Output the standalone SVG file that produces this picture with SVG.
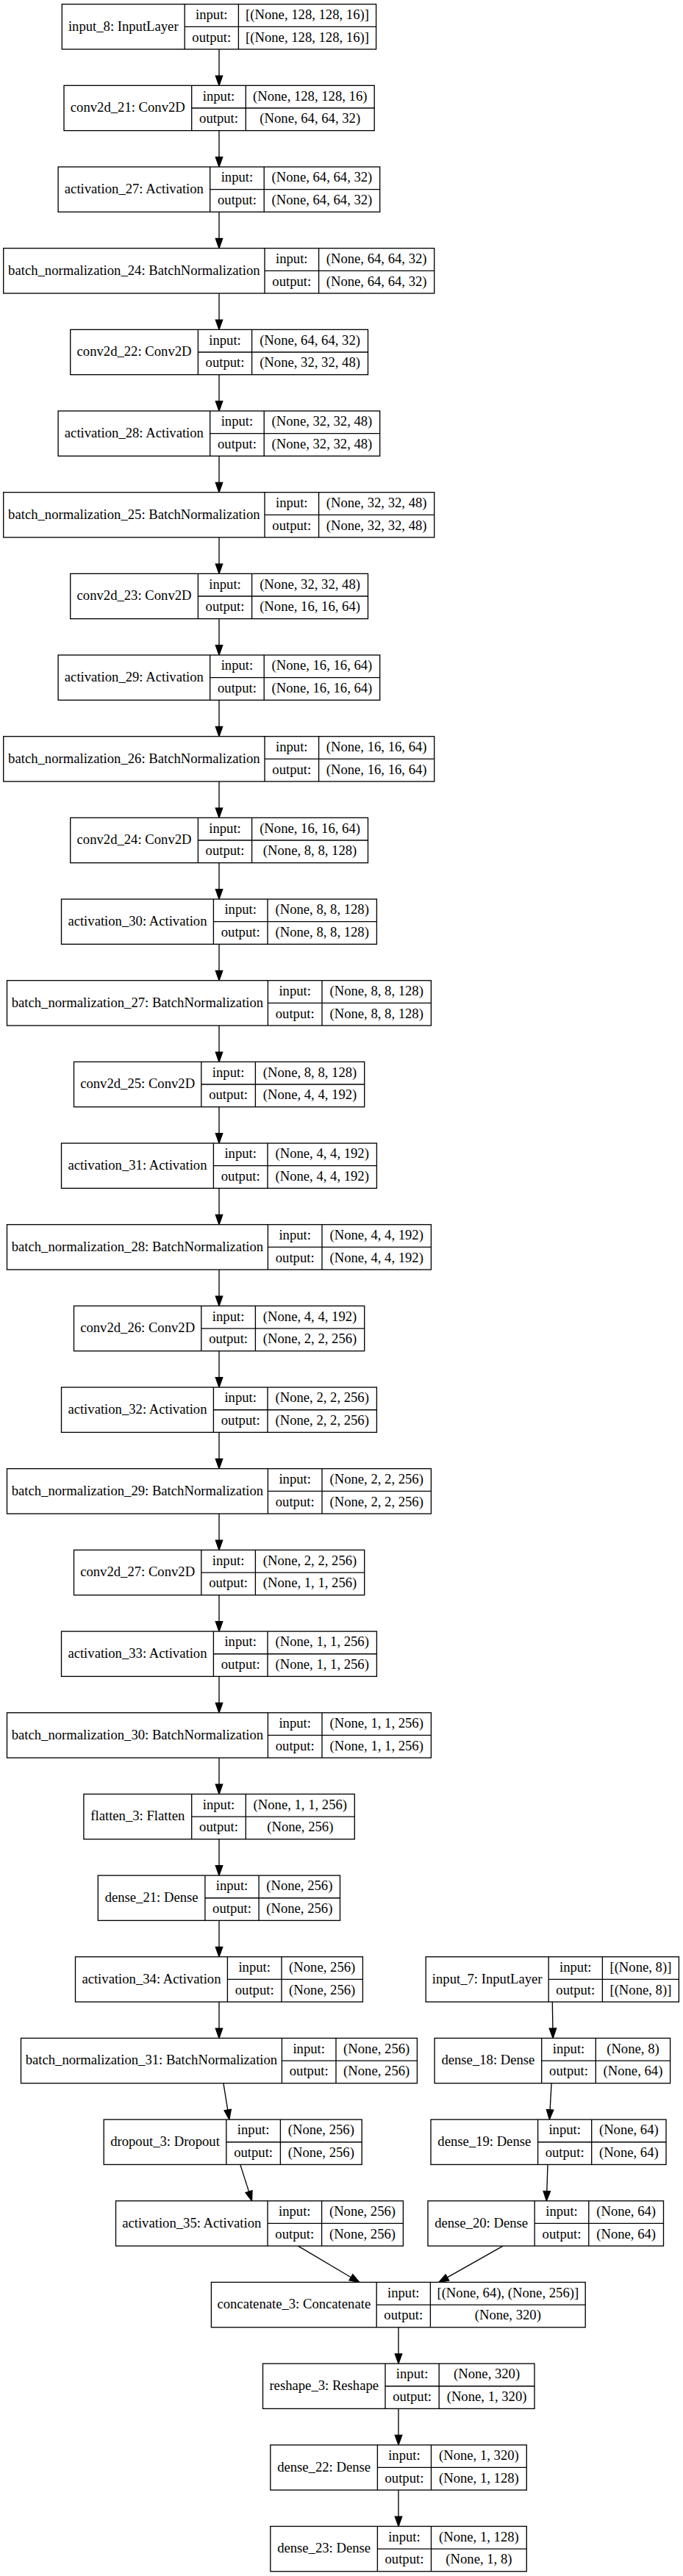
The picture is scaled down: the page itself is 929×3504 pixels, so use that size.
<svg xmlns="http://www.w3.org/2000/svg" width="929" height="3504" viewBox="0 0 929 3504">
<style>
.b{fill:#fff;stroke:#000;stroke-width:1.33}
.l{fill:none;stroke:#000;stroke-width:1.33}
.e{fill:none;stroke:#000;stroke-width:1.33;marker-end:url(#ah)}
text{font-family:"Liberation Serif","Times New Roman",serif;font-size:18.67px;text-anchor:middle;fill:#000}
</style>
<defs>
<marker id="ah" markerUnits="userSpaceOnUse" orient="auto" refX="0" refY="0" markerWidth="14" markerHeight="10" overflow="visible"><path d="M0,-4.7L13.3,0L0,4.7Z" fill="#000" stroke="#000" stroke-width="1.33"/></marker>
</defs>
<rect width="929" height="3504" fill="#fff"/>
<g id="edges">
<path class="e" d="M298,66.97V103.04"/>
<path class="e" d="M298,177.64V213.71"/>
<path class="e" d="M298,288.31V324.38"/>
<path class="e" d="M298,398.98V435.05"/>
<path class="e" d="M298,509.65V545.72"/>
<path class="e" d="M298,620.32V656.39"/>
<path class="e" d="M298,730.99V767.06"/>
<path class="e" d="M298,841.66V877.73"/>
<path class="e" d="M298,952.33V988.4"/>
<path class="e" d="M298,1063V1099.07"/>
<path class="e" d="M298,1173.67V1209.74"/>
<path class="e" d="M298,1284.34V1320.41"/>
<path class="e" d="M298,1395.01V1431.08"/>
<path class="e" d="M298,1505.68V1541.75"/>
<path class="e" d="M298,1616.35V1652.42"/>
<path class="e" d="M298,1727.02V1763.09"/>
<path class="e" d="M298,1837.69V1873.76"/>
<path class="e" d="M298,1948.36V1984.43"/>
<path class="e" d="M298,2059.03V2095.1"/>
<path class="e" d="M298,2169.7V2205.77"/>
<path class="e" d="M298,2280.37V2316.44"/>
<path class="e" d="M298,2391.04V2427.11"/>
<path class="e" d="M298,2501.71V2537.78"/>
<path class="e" d="M298,2612.38V2648.45"/>
<path class="e" d="M298,2723.05V2759.12"/>
<path class="e" d="M303.9,2833.7L309.7,2869.96"/>
<path class="e" d="M326.8,2944.4L338.5,2981.1"/>
<path class="e" d="M405.5,3055.06L477.4,3097.7"/>
<path class="e" d="M751.3,2723.05L751.9,2759.1"/>
<path class="e" d="M750.1,2833.7L748.1,2869.8"/>
<path class="e" d="M745,2944.4L743.8,2980.5"/>
<path class="e" d="M684.1,3055.06L608.4,3097.9"/>
<path class="e" d="M542,3165.73V3201.8"/>
<path class="e" d="M542,3276.4V3312.47"/>
<path class="e" d="M542,3387.07V3423.14"/>
</g>
<g id="input_8" transform="translate(0,5.67)"><rect class="b" x="84.3" y="0" width="427.3" height="61.3"/><path class="l" d="M251.2,0V61.3M324.4,0V61.3M251.2,30.65H511.6"/><text x="167.75" y="36">input_8: InputLayer</text><text x="287.8" y="20.3">input:</text><text x="287.8" y="51">output:</text><text x="418" y="20.3">[(None, 128, 128, 16)]</text><text x="418" y="51">[(None, 128, 128, 16)]</text></g>
<g id="conv2d_21" transform="translate(0,116.34)"><rect class="b" x="87" y="0" width="422.2" height="61.3"/><path class="l" d="M260.7,0V61.3M334.3,0V61.3M260.7,30.65H509.2"/><text x="173.85" y="36">conv2d_21: Conv2D</text><text x="297.5" y="20.3">input:</text><text x="297.5" y="51">output:</text><text x="421.75" y="20.3">(None, 128, 128, 16)</text><text x="421.75" y="51">(None, 64, 64, 32)</text></g>
<g id="activation_27" transform="translate(0,227.01)"><rect class="b" x="79.1" y="0" width="437.6" height="61.3"/><path class="l" d="M285.7,0V61.3M359.2,0V61.3M285.7,30.65H516.7"/><text x="182.4" y="36">activation_27: Activation</text><text x="322.45" y="20.3">input:</text><text x="322.45" y="51">output:</text><text x="437.95" y="20.3">(None, 64, 64, 32)</text><text x="437.95" y="51">(None, 64, 64, 32)</text></g>
<g id="batch_normalization_24" transform="translate(0,337.68)"><rect class="b" x="4.7" y="0" width="586" height="61.3"/><path class="l" d="M360,0V61.3M433.6,0V61.3M360,30.65H590.7"/><text x="182.35" y="36">batch_normalization_24: BatchNormalization</text><text x="396.8" y="20.3">input:</text><text x="396.8" y="51">output:</text><text x="512.15" y="20.3">(None, 64, 64, 32)</text><text x="512.15" y="51">(None, 64, 64, 32)</text></g>
<g id="conv2d_22" transform="translate(0,448.35)"><rect class="b" x="95.7" y="0" width="404.8" height="61.3"/><path class="l" d="M269.4,0V61.3M342.6,0V61.3M269.4,30.65H500.5"/><text x="182.55" y="36">conv2d_22: Conv2D</text><text x="306" y="20.3">input:</text><text x="306" y="51">output:</text><text x="421.55" y="20.3">(None, 64, 64, 32)</text><text x="421.55" y="51">(None, 32, 32, 48)</text></g>
<g id="activation_28" transform="translate(0,559.02)"><rect class="b" x="79.1" y="0" width="437.6" height="61.3"/><path class="l" d="M285.7,0V61.3M359.2,0V61.3M285.7,30.65H516.7"/><text x="182.4" y="36">activation_28: Activation</text><text x="322.45" y="20.3">input:</text><text x="322.45" y="51">output:</text><text x="437.95" y="20.3">(None, 32, 32, 48)</text><text x="437.95" y="51">(None, 32, 32, 48)</text></g>
<g id="batch_normalization_25" transform="translate(0,669.69)"><rect class="b" x="4.7" y="0" width="586" height="61.3"/><path class="l" d="M360,0V61.3M433.6,0V61.3M360,30.65H590.7"/><text x="182.35" y="36">batch_normalization_25: BatchNormalization</text><text x="396.8" y="20.3">input:</text><text x="396.8" y="51">output:</text><text x="512.15" y="20.3">(None, 32, 32, 48)</text><text x="512.15" y="51">(None, 32, 32, 48)</text></g>
<g id="conv2d_23" transform="translate(0,780.36)"><rect class="b" x="95.7" y="0" width="404.8" height="61.3"/><path class="l" d="M269.4,0V61.3M342.6,0V61.3M269.4,30.65H500.5"/><text x="182.55" y="36">conv2d_23: Conv2D</text><text x="306" y="20.3">input:</text><text x="306" y="51">output:</text><text x="421.55" y="20.3">(None, 32, 32, 48)</text><text x="421.55" y="51">(None, 16, 16, 64)</text></g>
<g id="activation_29" transform="translate(0,891.03)"><rect class="b" x="79.1" y="0" width="437.6" height="61.3"/><path class="l" d="M285.7,0V61.3M359.2,0V61.3M285.7,30.65H516.7"/><text x="182.4" y="36">activation_29: Activation</text><text x="322.45" y="20.3">input:</text><text x="322.45" y="51">output:</text><text x="437.95" y="20.3">(None, 16, 16, 64)</text><text x="437.95" y="51">(None, 16, 16, 64)</text></g>
<g id="batch_normalization_26" transform="translate(0,1001.7)"><rect class="b" x="4.7" y="0" width="586" height="61.3"/><path class="l" d="M360,0V61.3M433.6,0V61.3M360,30.65H590.7"/><text x="182.35" y="36">batch_normalization_26: BatchNormalization</text><text x="396.8" y="20.3">input:</text><text x="396.8" y="51">output:</text><text x="512.15" y="20.3">(None, 16, 16, 64)</text><text x="512.15" y="51">(None, 16, 16, 64)</text></g>
<g id="conv2d_24" transform="translate(0,1112.37)"><rect class="b" x="95.7" y="0" width="404.8" height="61.3"/><path class="l" d="M269.4,0V61.3M342.6,0V61.3M269.4,30.65H500.5"/><text x="182.55" y="36">conv2d_24: Conv2D</text><text x="306" y="20.3">input:</text><text x="306" y="51">output:</text><text x="421.55" y="20.3">(None, 16, 16, 64)</text><text x="421.55" y="51">(None, 8, 8, 128)</text></g>
<g id="activation_30" transform="translate(0,1223.04)"><rect class="b" x="83.5" y="0" width="428.9" height="61.3"/><path class="l" d="M290.4,0V61.3M364,0V61.3M290.4,30.65H512.4"/><text x="186.95" y="36">activation_30: Activation</text><text x="327.2" y="20.3">input:</text><text x="327.2" y="51">output:</text><text x="438.2" y="20.3">(None, 8, 8, 128)</text><text x="438.2" y="51">(None, 8, 8, 128)</text></g>
<g id="batch_normalization_27" transform="translate(0,1333.71)"><rect class="b" x="9.5" y="0" width="576.9" height="61.3"/><path class="l" d="M364.4,0V61.3M438,0V61.3M364.4,30.65H586.4"/><text x="186.95" y="36">batch_normalization_27: BatchNormalization</text><text x="401.2" y="20.3">input:</text><text x="401.2" y="51">output:</text><text x="512.2" y="20.3">(None, 8, 8, 128)</text><text x="512.2" y="51">(None, 8, 8, 128)</text></g>
<g id="conv2d_25" transform="translate(0,1444.38)"><rect class="b" x="100.5" y="0" width="395.2" height="61.3"/><path class="l" d="M273.8,0V61.3M347.4,0V61.3M273.8,30.65H495.7"/><text x="187.15" y="36">conv2d_25: Conv2D</text><text x="310.6" y="20.3">input:</text><text x="310.6" y="51">output:</text><text x="421.55" y="20.3">(None, 8, 8, 128)</text><text x="421.55" y="51">(None, 4, 4, 192)</text></g>
<g id="activation_31" transform="translate(0,1555.05)"><rect class="b" x="83.5" y="0" width="428.9" height="61.3"/><path class="l" d="M290.4,0V61.3M364,0V61.3M290.4,30.65H512.4"/><text x="186.95" y="36">activation_31: Activation</text><text x="327.2" y="20.3">input:</text><text x="327.2" y="51">output:</text><text x="438.2" y="20.3">(None, 4, 4, 192)</text><text x="438.2" y="51">(None, 4, 4, 192)</text></g>
<g id="batch_normalization_28" transform="translate(0,1665.72)"><rect class="b" x="9.5" y="0" width="576.9" height="61.3"/><path class="l" d="M364.4,0V61.3M438,0V61.3M364.4,30.65H586.4"/><text x="186.95" y="36">batch_normalization_28: BatchNormalization</text><text x="401.2" y="20.3">input:</text><text x="401.2" y="51">output:</text><text x="512.2" y="20.3">(None, 4, 4, 192)</text><text x="512.2" y="51">(None, 4, 4, 192)</text></g>
<g id="conv2d_26" transform="translate(0,1776.39)"><rect class="b" x="100.5" y="0" width="395.2" height="61.3"/><path class="l" d="M273.8,0V61.3M347.4,0V61.3M273.8,30.65H495.7"/><text x="187.15" y="36">conv2d_26: Conv2D</text><text x="310.6" y="20.3">input:</text><text x="310.6" y="51">output:</text><text x="421.55" y="20.3">(None, 4, 4, 192)</text><text x="421.55" y="51">(None, 2, 2, 256)</text></g>
<g id="activation_32" transform="translate(0,1887.06)"><rect class="b" x="83.5" y="0" width="428.9" height="61.3"/><path class="l" d="M290.4,0V61.3M364,0V61.3M290.4,30.65H512.4"/><text x="186.95" y="36">activation_32: Activation</text><text x="327.2" y="20.3">input:</text><text x="327.2" y="51">output:</text><text x="438.2" y="20.3">(None, 2, 2, 256)</text><text x="438.2" y="51">(None, 2, 2, 256)</text></g>
<g id="batch_normalization_29" transform="translate(0,1997.73)"><rect class="b" x="9.5" y="0" width="576.9" height="61.3"/><path class="l" d="M364.4,0V61.3M438,0V61.3M364.4,30.65H586.4"/><text x="186.95" y="36">batch_normalization_29: BatchNormalization</text><text x="401.2" y="20.3">input:</text><text x="401.2" y="51">output:</text><text x="512.2" y="20.3">(None, 2, 2, 256)</text><text x="512.2" y="51">(None, 2, 2, 256)</text></g>
<g id="conv2d_27" transform="translate(0,2108.4)"><rect class="b" x="100.5" y="0" width="395.2" height="61.3"/><path class="l" d="M273.8,0V61.3M347.4,0V61.3M273.8,30.65H495.7"/><text x="187.15" y="36">conv2d_27: Conv2D</text><text x="310.6" y="20.3">input:</text><text x="310.6" y="51">output:</text><text x="421.55" y="20.3">(None, 2, 2, 256)</text><text x="421.55" y="51">(None, 1, 1, 256)</text></g>
<g id="activation_33" transform="translate(0,2219.07)"><rect class="b" x="83.5" y="0" width="428.9" height="61.3"/><path class="l" d="M290.4,0V61.3M364,0V61.3M290.4,30.65H512.4"/><text x="186.95" y="36">activation_33: Activation</text><text x="327.2" y="20.3">input:</text><text x="327.2" y="51">output:</text><text x="438.2" y="20.3">(None, 1, 1, 256)</text><text x="438.2" y="51">(None, 1, 1, 256)</text></g>
<g id="batch_normalization_30" transform="translate(0,2329.74)"><rect class="b" x="9.5" y="0" width="576.9" height="61.3"/><path class="l" d="M364.4,0V61.3M438,0V61.3M364.4,30.65H586.4"/><text x="186.95" y="36">batch_normalization_30: BatchNormalization</text><text x="401.2" y="20.3">input:</text><text x="401.2" y="51">output:</text><text x="512.2" y="20.3">(None, 1, 1, 256)</text><text x="512.2" y="51">(None, 1, 1, 256)</text></g>
<g id="flatten_3" transform="translate(0,2440.41)"><rect class="b" x="113.9" y="0" width="368.4" height="61.3"/><path class="l" d="M260.7,0V61.3M334.3,0V61.3M260.7,30.65H482.3"/><text x="187.3" y="36">flatten_3: Flatten</text><text x="297.5" y="20.3">input:</text><text x="297.5" y="51">output:</text><text x="408.3" y="20.3">(None, 1, 1, 256)</text><text x="408.3" y="51">(None, 256)</text></g>
<g id="dense_21" transform="translate(0,2551.08)"><rect class="b" x="133.3" y="0" width="329.2" height="61.3"/><path class="l" d="M278.9,0V61.3M352.1,0V61.3M278.9,30.65H462.5"/><text x="206.1" y="36">dense_21: Dense</text><text x="315.5" y="20.3">input:</text><text x="315.5" y="51">output:</text><text x="407.3" y="20.3">(None, 256)</text><text x="407.3" y="51">(None, 256)</text></g>
<g id="activation_34" transform="translate(0,2661.75)"><rect class="b" x="102.5" y="0" width="390.9" height="61.3"/><path class="l" d="M309.4,0V61.3M383,0V61.3M309.4,30.65H493.4"/><text x="205.95" y="36">activation_34: Activation</text><text x="346.2" y="20.3">input:</text><text x="346.2" y="51">output:</text><text x="438.2" y="20.3">(None, 256)</text><text x="438.2" y="51">(None, 256)</text></g>
<g id="batch_normalization_31" transform="translate(0,2772.42)"><rect class="b" x="28.5" y="0" width="538.9" height="61.3"/><path class="l" d="M383.4,0V61.3M457,0V61.3M383.4,30.65H567.4"/><text x="205.95" y="36">batch_normalization_31: BatchNormalization</text><text x="420.2" y="20.3">input:</text><text x="420.2" y="51">output:</text><text x="512.2" y="20.3">(None, 256)</text><text x="512.2" y="51">(None, 256)</text></g>
<g id="dropout_3" transform="translate(0,2883.09)"><rect class="b" x="141.2" y="0" width="351" height="61.3"/><path class="l" d="M307.8,0V61.3M381.4,0V61.3M307.8,30.65H492.2"/><text x="224.5" y="36">dropout_3: Dropout</text><text x="344.6" y="20.3">input:</text><text x="344.6" y="51">output:</text><text x="436.8" y="20.3">(None, 256)</text><text x="436.8" y="51">(None, 256)</text></g>
<g id="activation_35" transform="translate(0,2993.76)"><rect class="b" x="157.5" y="0" width="390.9" height="61.3"/><path class="l" d="M364,0V61.3M437.6,0V61.3M364,30.65H548.4"/><text x="260.75" y="36">activation_35: Activation</text><text x="400.8" y="20.3">input:</text><text x="400.8" y="51">output:</text><text x="493" y="20.3">(None, 256)</text><text x="493" y="51">(None, 256)</text></g>
<g id="input_7" transform="translate(0,2661.75)"><rect class="b" x="579.2" y="0" width="344.2" height="61.3"/><path class="l" d="M746.2,0V61.3M819.4,0V61.3M746.2,30.65H923.4"/><text x="662.7" y="36">input_7: InputLayer</text><text x="782.8" y="20.3">input:</text><text x="782.8" y="51">output:</text><text x="871.4" y="20.3">[(None, 8)]</text><text x="871.4" y="51">[(None, 8)]</text></g>
<g id="dense_18" transform="translate(0,2772.42)"><rect class="b" x="591.1" y="0" width="320.5" height="61.3"/><path class="l" d="M736.7,0V61.3M810.3,0V61.3M736.7,30.65H911.6"/><text x="663.9" y="36">dense_18: Dense</text><text x="773.5" y="20.3">input:</text><text x="773.5" y="51">output:</text><text x="860.95" y="20.3">(None, 8)</text><text x="860.95" y="51">(None, 64)</text></g>
<g id="dense_19" transform="translate(0,2883.09)"><rect class="b" x="586" y="0" width="320" height="61.3"/><path class="l" d="M731.6,0V61.3M804.7,0V61.3M731.6,30.65H906"/><text x="658.8" y="36">dense_19: Dense</text><text x="768.15" y="20.3">input:</text><text x="768.15" y="51">output:</text><text x="855.35" y="20.3">(None, 64)</text><text x="855.35" y="51">(None, 64)</text></g>
<g id="dense_20" transform="translate(0,2993.76)"><rect class="b" x="582" y="0" width="320.5" height="61.3"/><path class="l" d="M727.2,0V61.3M800.8,0V61.3M727.2,30.65H902.5"/><text x="654.6" y="36">dense_20: Dense</text><text x="764" y="20.3">input:</text><text x="764" y="51">output:</text><text x="851.65" y="20.3">(None, 64)</text><text x="851.65" y="51">(None, 64)</text></g>
<g id="concatenate_3" transform="translate(0,3104.43)"><rect class="b" x="287.4" y="0" width="508.8" height="61.3"/><path class="l" d="M512.2,0V61.3M585.4,0V61.3M512.2,30.65H796.2"/><text x="399.8" y="36">concatenate_3: Concatenate</text><text x="548.8" y="20.3">input:</text><text x="548.8" y="51">output:</text><text x="690.8" y="20.3">[(None, 64), (None, 256)]</text><text x="690.8" y="51">(None, 320)</text></g>
<g id="reshape_3" transform="translate(0,3215.1)"><rect class="b" x="357.5" y="0" width="369.5" height="61.3"/><path class="l" d="M524,0V61.3M597.2,0V61.3M524,30.65H727"/><text x="440.75" y="36">reshape_3: Reshape</text><text x="560.6" y="20.3">input:</text><text x="560.6" y="51">output:</text><text x="662.1" y="20.3">(None, 320)</text><text x="662.1" y="51">(None, 1, 320)</text></g>
<g id="dense_22" transform="translate(0,3325.77)"><rect class="b" x="367.8" y="0" width="348.5" height="61.3"/><path class="l" d="M513.4,0V61.3M586.5,0V61.3M513.4,30.65H716.3"/><text x="440.6" y="36">dense_22: Dense</text><text x="549.95" y="20.3">input:</text><text x="549.95" y="51">output:</text><text x="651.4" y="20.3">(None, 1, 320)</text><text x="651.4" y="51">(None, 1, 128)</text></g>
<g id="dense_23" transform="translate(0,3436.44)"><rect class="b" x="367.8" y="0" width="348.5" height="61.3"/><path class="l" d="M513.4,0V61.3M586.5,0V61.3M513.4,30.65H716.3"/><text x="440.6" y="36">dense_23: Dense</text><text x="549.95" y="20.3">input:</text><text x="549.95" y="51">output:</text><text x="651.4" y="20.3">(None, 1, 128)</text><text x="651.4" y="51">(None, 1, 8)</text></g>
</svg>
